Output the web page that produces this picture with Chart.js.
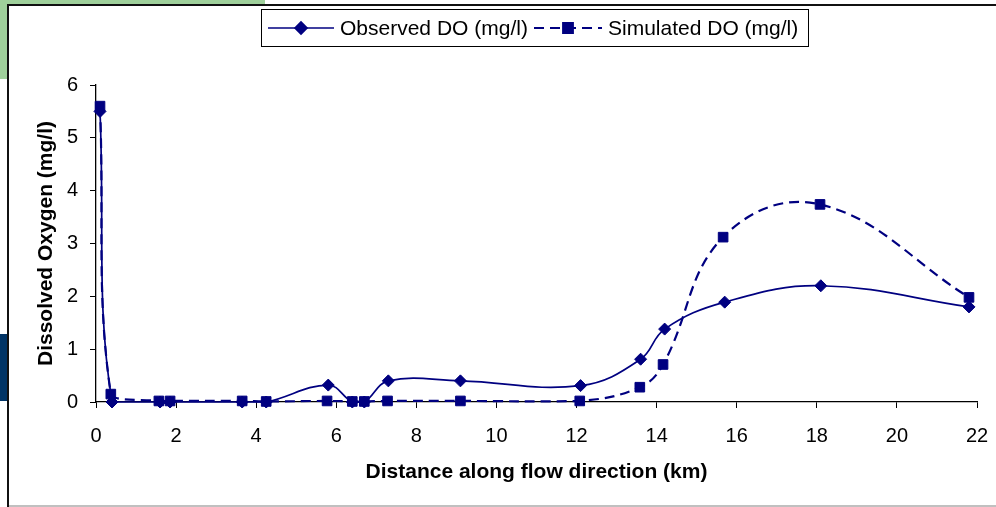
<!DOCTYPE html>
<html lang="en">
<head>
<meta charset="UTF-8">
<title>Dissolved Oxygen</title>
<script src="https://cdn.jsdelivr.net/npm/chart.js"></script>
<style>
  html, body { margin: 0; padding: 0; background: #fff; }
  canvas { display: block; }
</style>
</head>
<body>
<canvas id="myChart" width="996" height="507"></canvas>
<script>
// distances (km) and DO values (mg/l)
const distObserved = [0.1, 0.4, 1.6, 1.85, 3.65, 4.25, 5.8, 6.4, 6.7, 7.3, 9.1, 12.1, 13.6, 14.2, 15.7, 18.1, 21.8];
const doObserved   = [5.5, 0,   0,   0,    0,    0,    0.32, 0,  0,   0.4, 0.4, 0.31, 0.81, 1.38, 1.89, 2.2, 1.8];

const distSimulated = [0.1, 0.37, 1.57, 1.85, 3.65, 4.25, 5.77, 6.4, 6.7, 7.28, 9.1, 12.08, 13.58, 14.16, 15.66, 18.08, 21.8];
const doSimulated   = [5.6, 0.15, 0.02, 0.02, 0.02, 0.01, 0.02, 0.01, 0.01, 0.02, 0.02, 0.02, 0.28, 0.71, 3.12, 3.74, 1.98];

const xTicks = [0, 2, 4, 6, 8, 10, 12, 14, 16, 18, 20, 22];
const yTicks = [0, 1, 2, 3, 4, 5, 6];

const navy = '#000080';
const labelFont = '"Liberation Sans", Arial, sans-serif';

function toPoints(xs, ys) {
  return xs.map((x, i) => ({ x: x, y: ys[i] }));
}

// page background: green corner, blue strip and the chart frame
const backdrop = {
  id: 'backdrop',
  beforeDraw(chart) {
    const ctx = chart.ctx;
    ctx.save();
    ctx.fillStyle = '#fff';
    ctx.fillRect(0, 0, 996, 507);
    ctx.fillStyle = '#9fd09b';
    ctx.fillRect(0, 0, 265, 79);
    ctx.fillStyle = '#003466';
    ctx.fillRect(0, 334, 8, 67);
    ctx.fillStyle = '#fff';
    ctx.fillRect(9, 6, 987, 501);
    ctx.fillStyle = '#111';
    ctx.fillRect(7, 4, 2, 503);
    ctx.fillRect(7, 4, 989, 2);
    ctx.fillStyle = '#c0c0c0';
    ctx.fillRect(9, 505, 987, 2);
    ctx.restore();
  }
};

// boxed legend with line + marker, Excel style
const boxLegend = {
  id: 'boxLegend',
  afterDraw(chart) {
    const ctx = chart.ctx;
    const slots = [
      { x0: 268, x1: 334, tx: 340 },
      { x0: 534, x1: 602, tx: 608 }
    ];
    const y = 28;
    ctx.save();
    ctx.fillStyle = '#fff';
    ctx.fillRect(262, 10, 546, 36);
    ctx.strokeStyle = '#000';
    ctx.lineWidth = 1;
    ctx.strokeRect(261.5, 9.5, 547, 37);
    chart.data.datasets.forEach((ds, i) => {
      const s = slots[i];
      ctx.strokeStyle = ds.borderColor;
      ctx.lineWidth = ds.borderWidth;
      ctx.setLineDash(ds.borderDash || []);
      ctx.beginPath();
      ctx.moveTo(s.x0, y);
      ctx.lineTo(s.x1, y);
      ctx.stroke();
      ctx.setLineDash([]);
      ctx.fillStyle = ds.pointBackgroundColor;
      ctx.strokeStyle = ds.pointBorderColor;
      Chart.helpers.drawPoint(ctx, { pointStyle: ds.pointStyle, radius: ds.pointRadius, borderWidth: 1, rotation: 0 }, (s.x0 + s.x1) / 2, y);
      ctx.fillStyle = '#000';
      ctx.font = '21px ' + labelFont;
      ctx.textBaseline = 'middle';
      ctx.fillText(ds.label, s.tx, y + 1);
    });
    ctx.restore();
  }
};

const data = {
  datasets: [
    {
      label: 'Observed DO (mg/l)',
      data: toPoints(distObserved, doObserved),
      showLine: true,
      borderColor: navy,
      borderWidth: 1.7,
      tension: 0.4,
      pointStyle: 'rectRot',
      pointRadius: 6,
      pointBackgroundColor: navy,
      pointBorderColor: navy,
      pointBorderWidth: 1,
      clip: false
    },
    {
      label: 'Simulated DO (mg/l)',
      data: toPoints(distSimulated, doSimulated),
      showLine: true,
      borderColor: navy,
      borderWidth: 2.2,
      borderDash: [10, 6],
      tension: 0.4,
      pointStyle: 'rect',
      pointRadius: 6.8,
      pointBackgroundColor: navy,
      pointBorderColor: navy,
      pointBorderWidth: 1,
      clip: false
    }
  ]
};

const config = {
  type: 'scatter',
  data: data,
  plugins: [backdrop, boxLegend],
  options: {
    responsive: false,
    animation: false,
    layout: { padding: { left: 10, right: 19, top: 85, bottom: 0 } },
    plugins: {
      legend: { display: false },
      tooltip: { enabled: false }
    },
    scales: {
      x: {
        type: 'linear',
        min: 0,
        max: 22,
        afterFit(scale) {
          scale.height = 105;
          // tick padding should not widen the side margins
          scale.paddingLeft = 0;
          scale.paddingRight = 0;
        },
        afterBuildTicks(scale) { scale.ticks = xTicks.map(v => ({ value: v })); },
        grid: { drawOnChartArea: false, tickLength: 6, color: '#000', lineWidth: 1 },
        border: { display: true, color: '#000', width: 1.3 },
        ticks: { color: '#000', padding: 16, maxRotation: 0, font: { family: labelFont, size: 20 } },
        title: {
          display: true,
          text: 'Distance along flow direction (km)',
          color: '#000',
          font: { family: labelFont, size: 21, weight: 'bold' },
          padding: { top: 0, bottom: 22 }
        }
      },
      y: {
        type: 'linear',
        min: 0,
        max: 6,
        afterFit(scale) { scale.width = 86; },
        afterBuildTicks(scale) { scale.ticks = yTicks.map(v => ({ value: v })); },
        grid: { drawOnChartArea: false, tickLength: 6, color: '#000', lineWidth: 1 },
        border: { display: true, color: '#000', width: 1.3 },
        ticks: { color: '#000', padding: 12, font: { family: labelFont, size: 20 } },
        title: {
          display: true,
          text: 'Dissolved Oxygen (mg/l)',
          color: '#000',
          font: { family: labelFont, size: 21, weight: 'bold' },
          padding: { top: 24, bottom: 0 }
        }
      }
    }
  }
};

const myChart = new Chart(document.getElementById('myChart'), config);
</script>
</body>
</html>
